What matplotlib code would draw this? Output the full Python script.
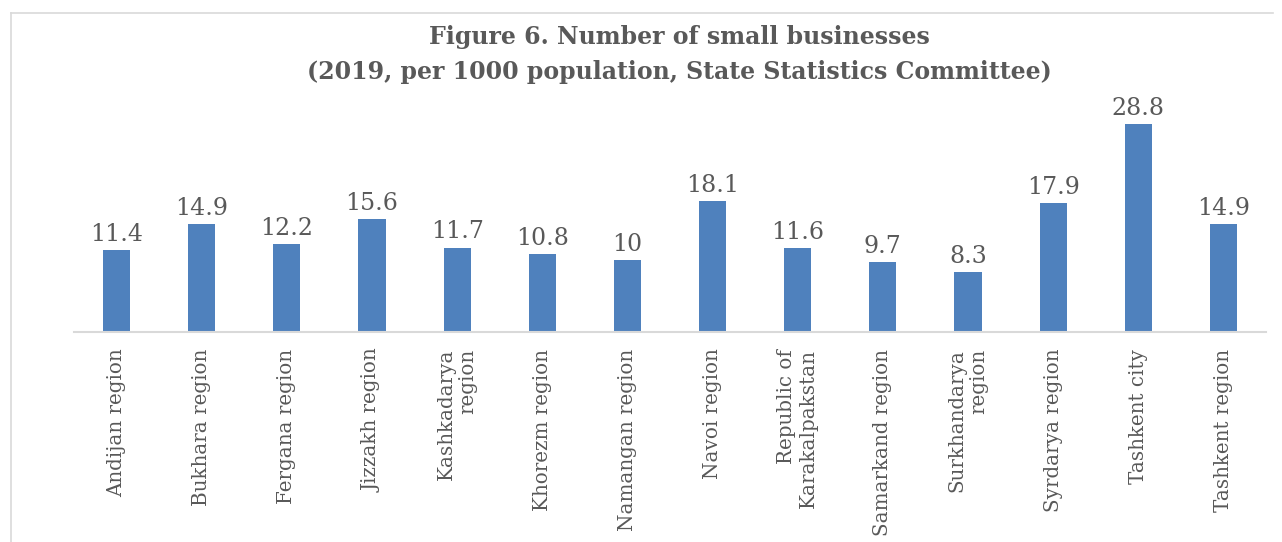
import matplotlib.pyplot as plt
from matplotlib.lines import Line2D

regions = ['Andijan region', 'Bukhara region', 'Fergana region', 'Jizzakh region',
           'Kashkadarya\nregion', 'Khorezm region', 'Namangan region', 'Navoi region',
           'Republic of\nKarakalpakstan', 'Samarkand region', 'Surkhandarya\nregion',
           'Syrdarya region', 'Tashkent city', 'Tashkent region']
values = [11.4, 14.9, 12.2, 15.6, 11.7, 10.8, 10, 18.1, 11.6, 9.7, 8.3, 17.9, 28.8, 14.9]
value_labels = ['11.4', '14.9', '12.2', '15.6', '11.7', '10.8', '10', '18.1', '11.6',
                '9.7', '8.3', '17.9', '28.8', '14.9']

text_color = '#595959'
bar_color = '#4F81BD'
line_color = '#D9D9D9'

fig = plt.figure(figsize=(12.82, 5.42), dpi=100)
ax = fig.add_axes([74 / 1282, 1 - 332 / 542, (1266 - 74) / 1282, (332 - 115.4) / 542])

x = list(range(len(regions)))
bars = ax.bar(x, values, width=0.32, color=bar_color)

for xi, v, lab in zip(x, values, value_labels):
    ax.annotate(lab, (xi, v), xytext=(0, 3), textcoords='offset points',
                ha='center', va='bottom', fontsize=17, color=text_color,
                family='DejaVu Serif')

ax.set_xlim(-0.5, len(regions) - 0.5)
ax.set_ylim(0, 30)
ax.set_xticks(x)
ax.set_xticklabels(regions, rotation=90, fontsize=14.3, color=text_color,
                   family='DejaVu Serif', ha='center', va='top', multialignment='right')
ax.tick_params(axis='x', length=0, pad=12)
ax.set_yticks([])
for side in ['top', 'right', 'left']:
    ax.spines[side].set_visible(False)
ax.spines['bottom'].set_color(line_color)
ax.spines['bottom'].set_linewidth(1.5)

fig.text(679 / 1282, 1 - 54.5 / 542,
         'Figure 6. Number of small businesses\n(2019, per 1000 population, State Statistics Committee)',
         ha='center', va='center', fontsize=17, fontweight='heavy', color=text_color,
         family='DejaVu Serif', linespacing=1.6)

# outer chart frame (left and top edges)
fig.add_artist(Line2D([11 / 1282, 11 / 1282], [0, 1 - 13 / 542], transform=fig.transFigure,
                      color=line_color, lw=1.2))
fig.add_artist(Line2D([11 / 1282, 1273 / 1282], [1 - 13 / 542, 1 - 13 / 542],
                      transform=fig.transFigure, color=line_color, lw=1.2))

fig.savefig('out.png', dpi=100)
